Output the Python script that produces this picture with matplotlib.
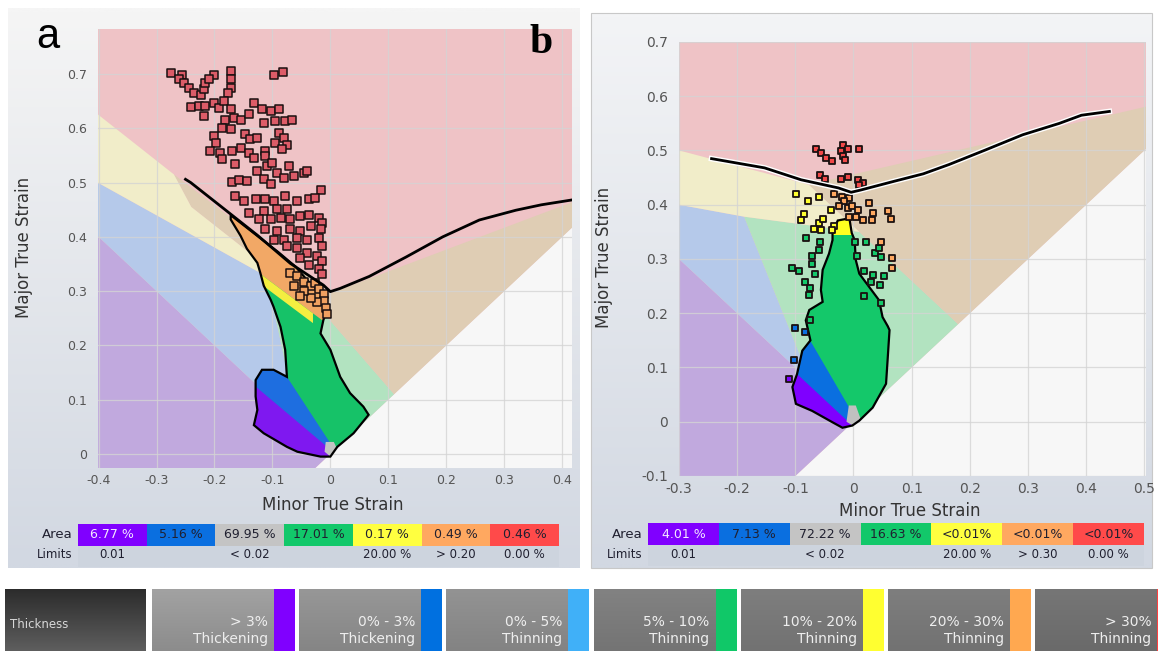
import numpy as np
import matplotlib
matplotlib.use('Agg')
import matplotlib.pyplot as plt
from matplotlib.patches import Polygon, Rectangle
from matplotlib.colors import to_rgb
import matplotlib.patheffects as pe

W, H = 1158, 655

# ---------------- panel a ----------------
xticks_a = [-0.4, -0.3, -0.2, -0.1, 0.0, 0.1, 0.2, 0.3, 0.4]
xlabels_a = ['-0.4', '-0.3', '-0.2', '-0.1', '0', '0.1', '0.2', '0.3', '0.4']
yticks_a = [0.0, 0.1, 0.2, 0.3, 0.4, 0.5, 0.6, 0.7]
ylabels_a = ['0', '0.1', '0.2', '0.3', '0.4', '0.5', '0.6', '0.7']

# zone boundaries (minor, major)
yellow_a = [(-0.41, 0.633), (-0.27, 0.515), (-0.24, 0.455), (-0.02, 0.27), (-0.11, 0.327), (-0.41, 0.505)]
tan_a = [(-0.27, 0.515), (0.0, 0.296), (0.43, 0.469), (0.43, 0.43), (0.11, 0.11), (-0.02, 0.27), (-0.24, 0.455)]
lgreen_a = [(-0.11, 0.327), (-0.02, 0.27), (0.11, 0.11), (0.0, 0.0), (-0.055, 0.055)]
blue_a = [(-0.41, 0.505), (-0.11, 0.327), (-0.055, 0.055), (-0.41, 0.41)]
purple_a = [(-0.41, 0.41), (0.0, 0.0), (-0.03, -0.03), (-0.41, -0.03)]
white_a = [(-0.03, -0.03), (0.43, 0.43), (0.43, -0.03)]

flc_a_x = [-0.25, -0.241, -0.184, -0.126, -0.069, -0.012, 0.0, 0.017, 0.067, 0.131, 0.194, 0.257, 0.32, 0.364, 0.417]
flc_a_y = [0.506, 0.5, 0.452, 0.403, 0.351, 0.311, 0.299, 0.305, 0.327, 0.363, 0.40, 0.431, 0.449, 0.459, 0.468]

blob_a = [(-0.172, 0.440), (-0.13, 0.405), (-0.09, 0.372), (-0.06, 0.345), (-0.04, 0.32), (-0.02, 0.30),
          (-0.008, 0.29), (-0.005, 0.265), (-0.012, 0.247), (-0.017, 0.222), (0.0, 0.192), (0.017, 0.142),
          (0.034, 0.112), (0.057, 0.087), (0.066, 0.072), (0.040, 0.038), (0.012, 0.013), (0.0, -0.005),
          (-0.017, -0.005), (-0.057, 0.004), (-0.075, 0.013), (-0.115, 0.038), (-0.132, 0.053), (-0.126, 0.081),
          (-0.129, 0.106), (-0.129, 0.136), (-0.118, 0.155), (-0.098, 0.155), (-0.075, 0.142), (-0.078, 0.192),
          (-0.086, 0.234), (-0.098, 0.271), (-0.103, 0.284), (-0.115, 0.31), (-0.121, 0.334), (-0.126, 0.352),
          (-0.144, 0.378), (-0.155, 0.402), (-0.172, 0.432)]
blob_a_orange = [(-0.2, 0.395), (0.05, 0.195), (0.05, 0.6), (-0.2, 0.6)]
blob_a_yellow = [(-0.2, 0.377), (-0.03, 0.241), (-0.03, 0.259), (-0.2, 0.395)]
blob_a_blue = [(-0.2, 0.16), (-0.086, 0.16), (0.012, 0.0), (0.012, -0.05), (-0.2, -0.05)]
blob_a_purple = [(-0.2, 0.188), (0.01, -0.001), (0.01, -0.05), (-0.2, -0.05)]
blob_a_gray = [(-0.008, 0.022), (0.006, 0.022), (0.012, 0.008), (0.0, -0.005), (-0.01, 0.004)]

red_a = [(-0.275, 0.702), (-0.256, 0.699), (-0.262, 0.690), (-0.253, 0.684), (-0.244, 0.675), (-0.236, 0.665),
         (-0.224, 0.662), (-0.218, 0.672), (-0.216, 0.684), (-0.201, 0.699), (-0.210, 0.690), (-0.171, 0.705),
         (-0.172, 0.690), (-0.172, 0.675), (-0.177, 0.665), (-0.097, 0.699), (-0.082, 0.704),
         (-0.241, 0.640), (-0.227, 0.641), (-0.216, 0.641), (-0.201, 0.647), (-0.192, 0.638), (-0.184, 0.650),
         (-0.172, 0.635), (-0.218, 0.622), (-0.181, 0.616), (-0.167, 0.619), (-0.155, 0.616), (-0.141, 0.626),
         (-0.132, 0.647), (-0.118, 0.635), (-0.103, 0.632), (-0.089, 0.635), (-0.115, 0.610), (-0.095, 0.613),
         (-0.078, 0.613), (-0.066, 0.616), (-0.187, 0.601), (-0.172, 0.598), (-0.201, 0.586), (-0.198, 0.573),
         (-0.147, 0.589), (-0.138, 0.580), (-0.126, 0.583), (-0.089, 0.592), (-0.080, 0.583), (-0.075, 0.570),
         (-0.095, 0.573), (-0.084, 0.561), (-0.207, 0.558), (-0.190, 0.555), (-0.187, 0.543), (-0.169, 0.558),
         (-0.155, 0.564), (-0.141, 0.555), (-0.132, 0.546), (-0.112, 0.558), (-0.112, 0.549), (-0.109, 0.530),
         (-0.101, 0.536), (-0.164, 0.534), (-0.126, 0.521), (-0.092, 0.518), (-0.072, 0.530), (-0.080, 0.509),
         (-0.063, 0.512), (-0.046, 0.518), (-0.040, 0.521), (-0.169, 0.501), (-0.158, 0.505), (-0.144, 0.503),
         (-0.115, 0.506), (-0.103, 0.497), (-0.017, 0.487), (-0.037, 0.469), (-0.026, 0.472), (-0.164, 0.475),
         (-0.149, 0.466), (-0.129, 0.469), (-0.112, 0.469), (-0.098, 0.466), (-0.078, 0.475), (-0.057, 0.466),
         (-0.075, 0.451), (-0.092, 0.451), (-0.115, 0.448), (-0.141, 0.444), (-0.124, 0.432), (-0.103, 0.432),
         (-0.086, 0.435), (-0.069, 0.432), (-0.052, 0.438), (-0.037, 0.441), (-0.020, 0.435), (-0.014, 0.426),
         (-0.112, 0.414), (-0.092, 0.411), (-0.069, 0.414), (-0.052, 0.411), (-0.034, 0.420), (-0.017, 0.414),
         (-0.098, 0.395), (-0.080, 0.395), (-0.057, 0.398), (-0.040, 0.395), (-0.020, 0.398), (-0.014, 0.383),
         (-0.075, 0.383), (-0.057, 0.380), (-0.040, 0.371), (-0.023, 0.365), (-0.014, 0.355), (-0.052, 0.361),
         (-0.037, 0.349), (-0.020, 0.340), (-0.014, 0.331)]
orange_a = [(-0.069, 0.334), (-0.057, 0.328), (-0.046, 0.316), (-0.034, 0.309), (-0.026, 0.315), (-0.020, 0.303),
            (-0.011, 0.294), (-0.011, 0.282), (-0.023, 0.279), (-0.034, 0.288), (-0.046, 0.300), (-0.063, 0.309),
            (-0.052, 0.291), (-0.008, 0.268), (-0.005, 0.257)]

area_a = ['6.77 %', '5.16 %', '69.95 %', '17.01 %', '0.17 %', '0.49 %', '0.46 %']
limits_a = ['0.01', '', '< 0.02', '', '20.00 %', '> 0.20', '0.00 %']

# ---------------- panel b ----------------
xticks_b = [-0.3, -0.2, -0.1, 0.0, 0.1, 0.2, 0.3, 0.4, 0.5]
xlabels_b = ['-0.3', '-0.2', '-0.1', '0', '0.1', '0.2', '0.3', '0.4', '0.5']
yticks_b = [-0.1, 0.0, 0.1, 0.2, 0.3, 0.4, 0.5, 0.6, 0.7]
ylabels_b = ['-0.1', '0', '0.1', '0.2', '0.3', '0.4', '0.5', '0.6', '0.7']

yellow_b = [(-0.31, 0.503), (-0.077, 0.437), (0.01, 0.35), (-0.188, 0.378), (-0.31, 0.402)]
tan_b = [(-0.077, 0.437), (0.52, 0.585), (0.52, 0.52), (0.18, 0.18), (0.01, 0.35)]
lgreen_b = [(-0.188, 0.378), (0.01, 0.35), (0.18, 0.18), (0.0, 0.0), (-0.0735, 0.0735)]
blue_b = [(-0.31, 0.402), (-0.188, 0.378), (-0.0735, 0.0735), (-0.31, 0.31)]
purple_b = [(-0.31, 0.31), (0.0, 0.0), (-0.11, -0.11), (-0.31, -0.11)]
white_b = [(-0.11, -0.11), (0.52, 0.52), (0.52, -0.11)]

flc_b_x = [-0.244, -0.153, -0.09, -0.026, -0.004, 0.012, 0.069, 0.12, 0.164, 0.227, 0.291, 0.354, 0.392, 0.44]
flc_b_y = [0.485, 0.468, 0.446, 0.431, 0.423, 0.427, 0.443, 0.457, 0.474, 0.501, 0.529, 0.55, 0.565, 0.572]

blob_b = [(-0.027, 0.371), (-0.007, 0.375), (-0.003, 0.348), (0.002, 0.335), (0.004, 0.298), (0.010, 0.273),
          (0.044, 0.224), (0.050, 0.193), (0.059, 0.176), (0.062, 0.169), (0.059, 0.119), (0.056, 0.070),
          (0.033, 0.026), (0.010, 0.002), (-0.002, -0.007), (-0.019, -0.011), (-0.036, -0.001), (-0.071, 0.020),
          (-0.099, 0.033), (-0.105, 0.064), (-0.097, 0.088), (-0.088, 0.131), (-0.074, 0.150), (-0.082, 0.187),
          (-0.076, 0.206), (-0.053, 0.221), (-0.056, 0.243), (-0.053, 0.280), (-0.042, 0.310), (-0.036, 0.335),
          (-0.036, 0.348)]
blob_b_yellow = [(-0.1, 0.345), (0.1, 0.345), (0.1, 0.4), (-0.1, 0.4)]
blob_b_blue = [(-0.2, 0.16), (-0.08, 0.16), (0.02, -0.024), (0.02, -0.05), (-0.2, -0.05)]
blob_b_purple = [(-0.2, 0.191), (0.02, -0.029), (0.02, -0.05), (-0.2, -0.05)]
blob_b_gray = [(-0.008, 0.03), (0.004, 0.03), (0.012, 0.006), (0.0, -0.008), (-0.012, 0.0)]

red_b = [(-0.065, 0.502), (-0.056, 0.496), (-0.048, 0.486), (-0.037, 0.481), (-0.018, 0.511), (-0.022, 0.499),
         (-0.010, 0.502), (-0.018, 0.489), (-0.014, 0.483), (0.010, 0.503), (-0.057, 0.454), (-0.049, 0.448),
         (-0.021, 0.448), (-0.010, 0.452), (0.007, 0.445), (0.017, 0.440), (0.009, 0.437)]
yellow_pts_b = [(-0.098, 0.420), (-0.078, 0.406), (-0.059, 0.415), (-0.085, 0.383), (-0.090, 0.371), (-0.060, 0.366),
                (-0.052, 0.373), (-0.068, 0.356), (-0.055, 0.354), (-0.039, 0.391), (-0.034, 0.361), (-0.037, 0.354)]
orange_b = [(-0.033, 0.419), (-0.019, 0.415), (-0.007, 0.412), (-0.016, 0.406), (-0.025, 0.397), (-0.010, 0.394),
            (-0.002, 0.398), (0.007, 0.391), (0.004, 0.378), (0.016, 0.372), (0.027, 0.403), (0.033, 0.385),
            (0.032, 0.371), (0.059, 0.388), (0.064, 0.373), (0.047, 0.331), (-0.007, 0.378), (0.066, 0.301),
            (0.066, 0.283)]
green_b = [(-0.081, 0.338), (-0.058, 0.332), (-0.059, 0.317), (-0.071, 0.306), (-0.072, 0.291), (-0.105, 0.284),
           (-0.093, 0.277), (-0.067, 0.273), (-0.083, 0.257), (-0.074, 0.246), (-0.076, 0.234), (0.002, 0.332),
           (0.021, 0.332), (0.006, 0.305), (0.037, 0.311), (0.047, 0.303), (0.018, 0.277), (0.034, 0.271),
           (0.053, 0.269), (0.031, 0.258), (0.045, 0.252), (0.018, 0.231), (0.047, 0.218), (-0.074, 0.188),
           (0.044, 0.320)]
blue_pts_b = [(-0.101, 0.172), (-0.083, 0.166), (-0.103, 0.114)]
purple_pts_b = [(-0.110, 0.079)]

area_b = ['4.01 %', '7.13 %', '72.22 %', '16.63 %', '<0.01%', '<0.01%', '<0.01%']
limits_b = ['0.01', '', '< 0.02', '', '20.00 %', '> 0.30', '0.00 %']

# ---------------- legend bar ----------------
legend_ranges = ['> 3%', '0% - 3%', '0% - 5%', '5% - 10%', '10% - 20%', '20% - 30%', '> 30%']
legend_kinds = ['Thickening', 'Thickening', 'Thinning', 'Thinning', 'Thinning', 'Thinning', 'Thinning']
legend_colors = ['#8000ff', '#0070e0', '#40b0f8', '#10c868', '#ffff30', '#ffa850', '#ff4040']

table_colors = ['#8000ff', '#0a6fe0', '#c4c4c4', '#12c86a', '#ffff40', '#ffa860', '#ff4a4a']

# colours of the zones
c_pink, c_yellow, c_tan = '#efc3c6', '#f1edc9', '#dfcdb4'
c_lgreen, c_blue, c_purple, c_white = '#b2e3c0', '#b5c9ea', '#c1a9de', '#f7f7f7'

fig = plt.figure(figsize=(W / 100, H / 100), dpi=100)
fig.patch.set_facecolor('white')

bg = fig.add_axes([0, 0, 1, 1], zorder=-1)


def gradient_box(ax, x0, y0, x1, y1, c_top, c_bot, z=0):
    t = np.linspace(0, 1, 64)[:, None, None]
    img = np.array(to_rgb(c_top))[None, None, :] * (1 - t) + np.array(to_rgb(c_bot))[None, None, :] * t
    img = np.repeat(img, 2, axis=1)
    ax.imshow(img, extent=(x0, x1, y1, y0), aspect='auto', interpolation='bilinear', zorder=z)


# panel frames
gradient_box(bg, 8, 8, 580, 568, '#f5f5f5', '#d2d8e2')
gradient_box(bg, 591, 13, 1152, 568, '#f3f4f6', '#d2d8e2')
bg.add_patch(Rectangle((591, 13), 561, 555, fill=False, ec='#c8c8c8', lw=0.8, zorder=1))


def draw_table(ax, x0, x1, area, limits, ylab):
    cw = (x1 - x0) / 7
    ax.add_patch(Rectangle((x0, ylab + 22), x1 - x0, 21, fc='#cdd4de', ec='none', zorder=1))
    for i in range(7):
        ax.add_patch(Rectangle((x0 + i * cw, ylab), cw, 22, fc=table_colors[i], ec='none', zorder=1))
        tc = '#f4e8ff' if i == 0 else '#202030'
        ax.text(x0 + (i + 0.5) * cw, ylab + 11, area[i], ha='center', va='center', fontsize=9, color=tc, zorder=2)
        if limits[i]:
            ax.text(x0 + (i + 0.5) * cw, ylab + 31, limits[i], ha='center', va='center', fontsize=8.5,
                    color='#202030', zorder=2)
    ax.text(x0 - 5, ylab + 11, 'Area', ha='right', va='center', fontsize=9.5, color='#202030', zorder=2)
    ax.text(x0 - 5, ylab + 31, 'Limits', ha='right', va='center', fontsize=8.5, color='#202030', zorder=2)


draw_table(bg, 78, 559, area_a, limits_a, 524)
draw_table(bg, 648, 1144, area_b, limits_b, 523)

# legend bar
gradient_box(bg, 5, 589, 146, 651, '#2c2c2c', '#5e5e5e')
bg.text(10, 624, 'Thickness', ha='left', va='center', fontsize=8.5, color='#d8d8d8')
item_grays = [('#a2a2a2', '#8c8c8c'), ('#979797', '#858585'), ('#939393', '#838383'), ('#828282', '#747474'),
              ('#7e7e7e', '#727272'), ('#7e7e7e', '#727272'), ('#767676', '#6a6a6a')]
for i in range(7):
    x0 = 152 + i * 147.2
    gradient_box(bg, x0, 589, x0 + 143, 651, item_grays[i][0], item_grays[i][1])
    bg.add_patch(Rectangle((x0 + 122, 589), 21, 62, fc=legend_colors[i], ec='none', zorder=1))
    bg.text(x0 + 116, 622, legend_ranges[i], ha='right', va='center', fontsize=10, color='#eeeeee', zorder=2)
    bg.text(x0 + 116, 639, legend_kinds[i], ha='right', va='center', fontsize=10, color='#eeeeee', zorder=2)

bg.set_xlim(0, W)
bg.set_ylim(H, 0)
bg.axis('off')

# axis titles
bg.text(333, 505, 'Minor True Strain', ha='center', va='center', fontsize=12, color='#333333')
bg.text(24, 247, 'Major True Strain', ha='center', va='center', rotation=90, fontsize=12, color='#333333')
bg.text(910, 511, 'Minor True Strain', ha='center', va='center', fontsize=12, color='#333333')
bg.text(604, 257, 'Major True Strain', ha='center', va='center', rotation=90, fontsize=12, color='#333333')


def setup(ax, xl, yl, xt, xtl, yt, ytl, fs):
    ax.set_xlim(*xl)
    ax.set_ylim(*yl)
    ax.set_facecolor(c_pink)
    ax.set_xticks(xt)
    ax.set_xticklabels(xtl)
    ax.set_yticks(yt)
    ax.set_yticklabels(ytl)
    ax.tick_params(length=0, labelsize=fs, labelcolor='#555555')
    ax.tick_params(axis='x', pad=4.5)
    ax.tick_params(axis='y', pad=8)
    for s in ax.spines.values():
        s.set_visible(False)
    ax.set_axisbelow(False)
    ax.grid(True, color='#d4d4d4', lw=0.9, alpha=0.8)


def zones(ax, polys):
    for pts, col in polys:
        ax.add_patch(Polygon(pts, closed=True, fc=col, ec='none', zorder=1))


def blob(ax, outline, parts, base):
    b = Polygon(outline, closed=True, fc=base, ec='none', zorder=3)
    ax.add_patch(b)
    for pts, col in parts:
        p = Polygon(pts, closed=True, fc=col, ec='none', zorder=3.1)
        ax.add_patch(p)
        p.set_clip_path(b)
    ax.add_patch(Polygon(outline, closed=True, fill=False, ec='black', lw=1.6, zorder=3.2))


def squares(ax, pts, col, s, lw):
    arr = np.array(pts)
    ax.scatter(arr[:, 0], arr[:, 1], marker='s', s=s, c=col, edgecolors='#1a1010', linewidths=lw, zorder=4)


# ---- panel a
axa = fig.add_axes([98 / W, 1 - 468 / H, 474 / W, 439 / H])
setup(axa, (-0.401, 0.417), (-0.026, 0.783), xticks_a, xlabels_a, yticks_a, ylabels_a, 9)
zones(axa, [(white_a, c_white), (purple_a, c_purple), (blue_a, c_blue), (lgreen_a, c_lgreen),
            (tan_a, c_tan), (yellow_a, c_yellow)])
blob(axa, blob_a, [(blob_a_orange, '#f2a866'), (blob_a_yellow, '#f4ee40'), (blob_a_blue, '#1e6ee0'),
                   (blob_a_purple, '#7f18f0'), (blob_a_gray, '#c4c4c4')], '#16c268')
squares(axa, orange_a, '#f0a060', 26, 1.1)
squares(axa, red_a, '#dc5c68', 30, 1.1)
axa.plot(flc_a_x, flc_a_y, color='black', lw=2, zorder=5)

# ---- panel b
axb = fig.add_axes([679 / W, 1 - 476 / H, 467 / W, 434 / H])
setup(axb, (-0.3, 0.503), (-0.1, 0.7), xticks_b, xlabels_b, yticks_b, ylabels_b, 10)
zones(axb, [(white_b, c_white), (purple_b, c_purple), (blue_b, c_blue), (lgreen_b, c_lgreen),
            (tan_b, c_tan), (yellow_b, c_yellow)])
blob(axb, blob_b, [(blob_b_yellow, '#ffff20'), (blob_b_blue, '#0a6fe0'), (blob_b_purple, '#7f00ff'),
                   (blob_b_gray, '#c0c0c0')], '#14c86a')
squares(axb, green_b, '#14c86a', 24, 1.3)
squares(axb, blue_pts_b, '#0a6fe0', 24, 1.3)
squares(axb, purple_pts_b, '#7f00ff', 24, 1.3)
squares(axb, yellow_pts_b, '#ffff30', 24, 1.3)
squares(axb, orange_b, '#ffa860', 24, 1.3)
squares(axb, red_b, '#f04848', 24, 1.3)
axb.plot(flc_b_x, flc_b_y, color='black', lw=2, zorder=5,
         path_effects=[pe.Stroke(linewidth=4, foreground='white'), pe.Normal()])

# panel letters
fig.text(48 / W, 1 - 37 / H, 'a', ha='center', va='center', fontsize=30, family='Liberation Sans')
fig.text(541 / W, 1 - 43 / H, 'b', ha='center', va='center', fontsize=30, family='Liberation Serif',
         weight='bold')

fig.savefig('out.png', dpi=100)
